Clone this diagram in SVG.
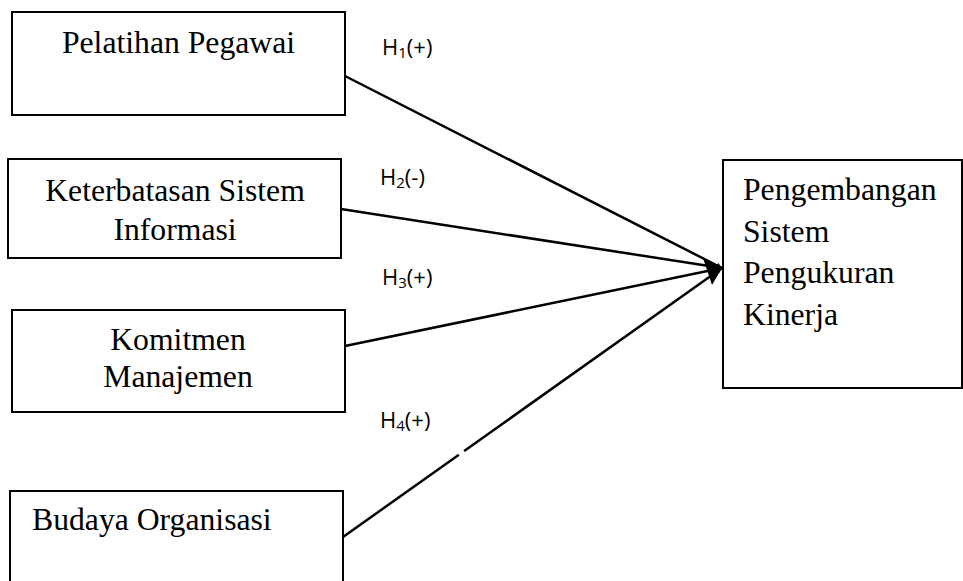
<svg xmlns="http://www.w3.org/2000/svg" width="963" height="581" viewBox="0 0 963 581">
<style>
.box{fill:#fff;stroke:#000;stroke-width:2}
.t{font-family:"Liberation Serif","Times New Roman",serif;font-size:31.7px;fill:#000}
.h{font-family:"Open Sans","Liberation Sans",sans-serif;font-size:22px;fill:#000}
.s{font-size:15px}
.c{fill:none;stroke:#000;stroke-width:2.5}
</style>
<defs>
<marker id="ah" viewBox="0 0 10 10" refX="10" refY="5" markerWidth="6" markerHeight="6" orient="auto" markerUnits="userSpaceOnUse">
<path d="M0,0 L10,5 L0,10 z" fill="#000"/>
</marker>
</defs>
<rect width="963" height="581" fill="#fff"/>
<g id="n1"><rect class="box" x="12" y="12" width="333" height="103"/><text class="t" x="178.5" y="53" text-anchor="middle">Pelatihan Pegawai</text></g>
<g id="n2"><rect class="box" x="8" y="159" width="333" height="99"/><text class="t" x="175" y="201" text-anchor="middle">Keterbatasan Sistem</text><text class="t" x="175" y="240" text-anchor="middle">Informasi</text></g>
<g id="n3"><rect class="box" x="12" y="310" width="333" height="102"/><text class="t" x="178" y="350" text-anchor="middle">Komitmen</text><text class="t" x="178" y="387" text-anchor="middle">Manajemen</text></g>
<g id="n4"><rect class="box" x="10" y="491" width="333" height="100"/><text class="t" x="32" y="530">Budaya Organisasi</text></g>
<g id="n5"><rect class="box" x="723" y="160" width="239" height="228"/><text class="t" x="743" y="200">Pengembangan</text><text class="t" x="743" y="242">Sistem</text><text class="t" x="743" y="283">Pengukuran</text><text class="t" x="743" y="325">Kinerja</text></g>
<g id="connectors">
<path class="c" d="M345,76 L722,268" marker-end="url(#ah)"/>
<path class="c" d="M341,209 L722,268" marker-end="url(#ah)"/>
<path class="c" d="M345,346 L722,268" marker-end="url(#ah)"/>
<path class="c" d="M343,537 L722,268" marker-end="url(#ah)"/>
<path d="M722,268 L703,258 L712,285 z" fill="#000"/>
<line x1="459" y1="455" x2="464" y2="451" stroke="#fff" stroke-width="4"/>
</g>
<g id="labels">
<text class="h" x="382" y="55">H<tspan class="s" dy="3">1</tspan><tspan dy="-3">(+)</tspan></text>
<text class="h" x="380" y="185">H<tspan class="s" dy="3">2</tspan><tspan dy="-3">(-)</tspan></text>
<text class="h" x="382" y="285">H<tspan class="s" dy="3">3</tspan><tspan dy="-3">(+)</tspan></text>
<text class="h" x="380" y="428">H<tspan class="s" dy="3">4</tspan><tspan dy="-3">(+)</tspan></text>
</g>
</svg>
